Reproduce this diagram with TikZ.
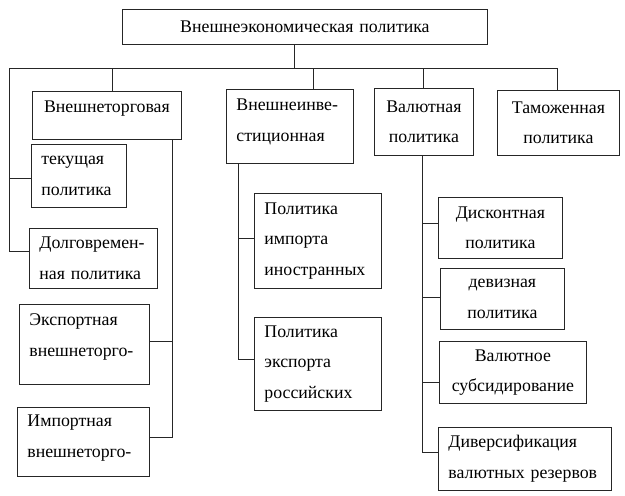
\documentclass[tikz,border=0pt]{standalone}
\usepackage{fontspec}
\setmainfont{Liberation Serif}

\newcommand\boxfont{\fontsize{17.8}{30.5}\selectfont}
\newcommand\drop[1]{\rule[-#1]{0pt}{#1}}

\begin{document}
\begin{tikzpicture}[x=1pt, y=-1pt,
  box/.style={draw=black!85, line width=0.8pt, rectangle, anchor=north west, inner xsep=10pt, inner ysep=0pt, font=\boxfont},
  lbox/.style={box, align=left},
  cbox/.style={box, align=center},
  link/.style={draw=black!85, line width=0.8pt}]
\useasboundingbox (0,0) rectangle (625,496);

% top level
\node[cbox, minimum width=365pt, minimum height=35pt, text width=345pt] (vep) at (122,9) {Внешнеэкономическая\ политика};

% second level
\node[cbox, minimum width=149pt, minimum height=48pt, text width=129pt] (trade) at (32,91) {Внешнеторговая\drop{18pt}};
\node[lbox, minimum width=127pt, minimum height=74pt, text width=107pt] (invest) at (226,89) {Внешнеинве-\\стиционная\drop{12pt}};
\node[cbox, minimum width=99pt, minimum height=67pt, text width=79pt] (curr) at (374,88) {Валютная\\политика};
\node[cbox, minimum width=122pt, minimum height=65pt, text width=102pt] (cust) at (497,90) {Таможенная\\политика};

% trade policy
\node[lbox, minimum width=95pt, minimum height=63pt, text width=75pt] (cur) at (31,144) {текущая\\политика};
\node[lbox, minimum width=128pt, minimum height=60pt, text width=108pt] (long) at (29,228) {Долговремен-\\ная политика};
\node[lbox, minimum width=130pt, minimum height=80pt, text width=110pt] (expT) at (19,304) {Экспортная\\внешнеторго-\drop{19pt}};
\node[lbox, minimum width=132pt, minimum height=69pt, text width=112pt] (impT) at (17,407) {Импортная\\внешнеторго-\drop{11pt}};

% investment policy
\node[lbox, minimum width=127pt, minimum height=95pt, text width=107pt] (impC) at (254,193) {Политика\\импорта\\иностранных};
\node[lbox, minimum width=127pt, minimum height=93pt, text width=107pt] (expC) at (254,317) {Политика\\экспорта\\российских};

% currency policy
\node[cbox, minimum width=124pt, minimum height=61pt, text width=104pt] (disc) at (438,197) {Дисконтная\\политика};
\node[cbox, minimum width=124pt, minimum height=61pt, text width=104pt] (dev) at (440,268) {девизная\\политика};
\node[cbox, minimum width=147pt, minimum height=62pt, text width=127pt] (subs) at (439,341) {Валютное\\субсидирование};
\node[lbox, minimum width=173pt, minimum height=63pt, text width=153pt] (div) at (438,427) {Диверсификация\\валютных резервов};

% bus
\coordinate (busL) at (9,68);
\coordinate (busR) at (557,68);
\coordinate (stem) at (294,68);
\draw[link] (vep.south -| stem) -- (stem);
\draw[link] ([yshift=7pt]long.west) -| (busL) -- (busR) -- (busR |- cust.north);
\draw[link] ([yshift=-2.5pt]cur.west) -- ([yshift=-2.5pt]cur.west -| busL);
\foreach \x/\n in {112/trade, 313/invest, 423/curr} {
  \coordinate (d\n) at (\x,68);
  \draw[link] (d\n) -- (d\n |- \n.north);
}

% branches
\coordinate (tv) at (172,0);
\draw[link] (trade.south -| tv) |- ([yshift=4.5pt]impT.east);
\draw[link] ([yshift=3pt]expT.east) -- ([yshift=3pt]expT.east -| tv);

\coordinate (iv) at (238,0);
\draw[link] (invest.south -| iv) |- ([yshift=4.5pt]expC.west);
\draw[link] ([yshift=2.5pt]impC.west) -- ([yshift=2.5pt]impC.west -| iv);

\coordinate (cv) at (422,0);
\draw[link] (curr.south -| cv) |- ([yshift=6.5pt]div.west);
\foreach \n/\s in {disc/4.5, dev/1.5, subs/-10}
  \draw[link] ([yshift=\s pt]\n.west) -- ([yshift=\s pt]\n.west -| cv);
\end{tikzpicture}
\end{document}
